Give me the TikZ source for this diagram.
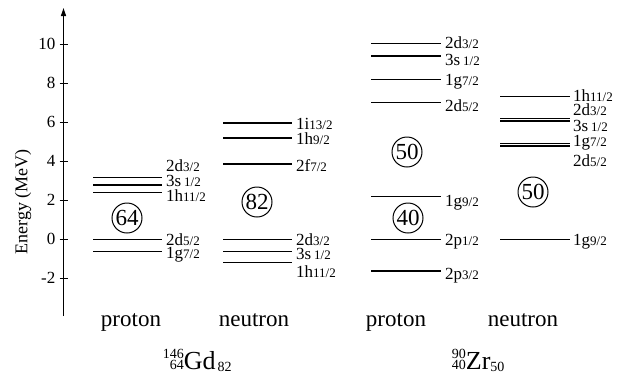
\documentclass[tikz,border=0pt]{standalone}
\usepackage{fontspec}
\setmainfont{Liberation Serif}
\usetikzlibrary{arrows.meta}
\newcommand\fr[1]{{\fontsize{13}{13}\selectfont #1}}
\newcommand\iso[5]{{\fontsize{14}{14}\selectfont\raisebox{10.5pt}{#1}\llap{\raisebox{-0.5pt}{#2}}}{\fontsize{26}{26}\selectfont #3}{\fontsize{14}{14}\selectfont\hspace{#5}\raisebox{-2pt}{#4}}}
\tikzset{
  lev/.style={line width=1.4pt},
  lab/.style={anchor=base west, inner sep=0pt, font=\fontsize{17}{17}\selectfont},
  magic/.style={circle, draw, line width=1pt, minimum size=30pt, inner sep=0pt, font=\fontsize{23}{23}\selectfont},
  ticklab/.style={anchor=east, inner sep=0pt, font=\fontsize{17}{17}\selectfont},
  part/.style={anchor=base, inner sep=0pt, font=\fontsize{23}{23}\selectfont},
  nucl/.style={anchor=base west, inner sep=0pt}
}
\begin{document}
\begin{tikzpicture}[x=1pt,y=-1pt]
\useasboundingbox (0,0) rectangle (633,376);
% axis
\coordinate (abot) at (63.5,316);
\coordinate (atop) at (63.5,8);
\draw[line width=1.3pt, -{Triangle[length=8pt,width=5pt]}] (abot) -- (atop);
\foreach \e in {-2,0,2,4,6,8,10}{
  \draw[line width=1.3pt] (59.5,{239.3-19.5*\e}) -- (67.5,{239.3-19.5*\e});
  \node[ticklab] (t\e) at (55.5,{239.3-19.5*\e}) {\e};
}
\node[rotate=90, inner sep=0pt, font=\fontsize{18}{18}\selectfont] (elab) at (23,202) {Energy (MeV)};

% Gd proton
\foreach \y in {177.3,185,192.5,239.3,251.7}{\draw[lev] (93,\y) -- (162,\y);}
\node[lab] (gp1) at (166,171) {2d\fr{3/2}};
\node[lab] (gp2) at (166,186) {3s\,\fr{1/2}};
\node[lab] (gp3) at (166,201) {1h\fr{11/2}};
\node[lab] (gp4) at (166,245.3) {2d\fr{5/2}};
\node[lab] (gp5) at (166,258.5) {1g\fr{7/2}};
\node[magic] (c64) at (127,218) {64};

% Gd neutron
\foreach \y in {123,138,164,239.3,251.7,262.3}{\draw[lev] (223,\y) -- (292,\y);}
\node[lab] (gn1) at (296,129) {1i\fr{13/2}};
\node[lab] (gn2) at (296,144) {1h\fr{9/2}};
\node[lab] (gn3) at (296,171) {2f\fr{7/2}};
\node[lab] (gn4) at (296,245.3) {2d\fr{3/2}};
\node[lab] (gn5) at (296,259) {3s\,\fr{1/2}};
\node[lab] (gn6) at (296,277) {1h\fr{11/2}};
\node[magic] (c82) at (257,202) {82};

% Zr proton
\foreach \y in {43.3,56,79.3,102.7,196.7,239.3,271}{\draw[lev] (371,\y) -- (441,\y);}
\node[lab] (zp1) at (445,48) {2d\fr{3/2}};
\node[lab] (zp2) at (445,65) {3s\,\fr{1/2}};
\node[lab] (zp3) at (445,85) {1g\fr{7/2}};
\node[lab] (zp4) at (445,111) {2d\fr{5/2}};
\node[lab] (zp5) at (445,206) {1g\fr{9/2}};
\node[lab] (zp6) at (445,245.3) {2p\fr{1/2}};
\node[lab] (zp7) at (445,279) {2p\fr{3/2}};
\node[magic] (c50a) at (407,152) {50};
\node[magic] (c40) at (408,218) {40};

% Zr neutron
\foreach \y in {96.7,118.3,121,143.3,146,239.3}{\draw[lev] (500,\y) -- (570,\y);}
\node[lab] (zn1) at (573,101) {1h\fr{11/2}};
\node[lab] (zn2) at (573,115) {2d\fr{3/2}};
\node[lab] (zn3) at (573,131) {3s\,\fr{1/2}};
\node[lab] (zn4) at (573,146) {1g\fr{7/2}};
\node[lab] (zn5) at (573,166) {2d\fr{5/2}};
\node[lab] (zn6) at (573,245.3) {1g\fr{9/2}};
\node[magic] (c50b) at (533,192) {50};

% bottom labels
\node[part] (pg) at (131,326) {proton};
\node[part] (ng) at (254,326) {neutron};
\node[part] (pz) at (396,326) {proton};
\node[part] (nz) at (523,326) {neutron};
\node[nucl] (gd) at (162.7,369) {\iso{146}{64}{Gd}{82}{2pt}};
\node[nucl] (zr) at (451.7,369) {\iso{90}{40}{Zr}{50}{0pt}};
\end{tikzpicture}
\end{document}
